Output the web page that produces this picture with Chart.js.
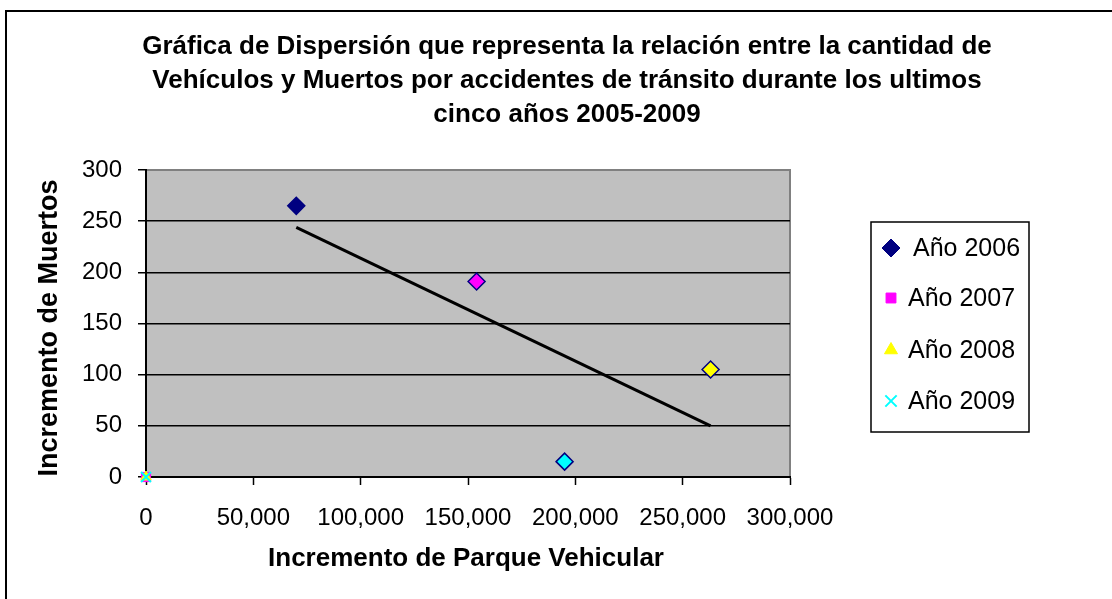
<!DOCTYPE html>
<html>
<head>
<meta charset="utf-8">
<script src="https://cdn.jsdelivr.net/npm/chart.js"></script>
<style>
  body { margin: 0; background: #fff; }
  canvas { display: block; }
</style>
</head>
<body>
<canvas id="scatterChart" width="1112" height="599"></canvas>
<script>
  // data
  const seriesNames = ["Año 2006", "Año 2007", "Año 2008", "Año 2009"];
  const vehicles2006 = [70000, 154000, 263000, 195000];
  const deaths2006 = [265, 191, 105, 15];
  const vehiclesOther = [0];
  const deathsOther = [0];
  const trendX = [70000, 263000];
  const trendY = [244, 50];
  const xTickValues = [0, 50000, 100000, 150000, 200000, 250000, 300000];
  const yTickValues = [0, 50, 100, 150, 200, 250, 300];

  const titleLines = [
    "Gráfica de Dispersión que representa la relación entre la cantidad de",
    "Vehículos y Muertos por accidentes de tránsito durante los ultimos",
    "cinco años 2005-2009",
  ];
  const xTitle = "Incremento de Parque Vehicular";
  const yTitle = "Incremento de Muertos";

  const FONT = '"Liberation Sans", Arial, sans-serif';
  const diamondColors = ["#000080", "#FF00FF", "#FFFF00", "#00FFFF"];

  const toPoints = (xs, ys) => xs.map((x, i) => ({ x: x, y: ys[i] }));

  const chartDecor = {
    id: "chartDecor",
    beforeDraw(chart) {
      const ctx = chart.ctx;
      const a = chart.chartArea;
      ctx.save();
      ctx.fillStyle = "#fff";
      ctx.fillRect(0, 0, chart.width, chart.height);
      // outer frame (runs off the right and bottom)
      ctx.strokeStyle = "#000";
      ctx.lineWidth = 2;
      ctx.strokeRect(6, 11, chart.width + 20, chart.height + 20);
      // plot area
      ctx.fillStyle = "#C0C0C0";
      ctx.fillRect(a.left, a.top, a.right - a.left, a.bottom - a.top);
      ctx.strokeStyle = "#808080";
      ctx.lineWidth = 2;
      ctx.beginPath();
      ctx.moveTo(a.left, a.top);
      ctx.lineTo(a.right, a.top);
      ctx.lineTo(a.right, a.bottom);
      ctx.stroke();
      ctx.restore();
    },
    afterDraw(chart) {
      const ctx = chart.ctx;
      ctx.save();
      ctx.fillStyle = "#000";
      ctx.textAlign = "center";
      ctx.textBaseline = "alphabetic";
      ctx.font = "bold 26px " + FONT;
      const baselines = [54, 88, 122];
      titleLines.forEach((t, i) => ctx.fillText(t, 567, baselines[i]));

      ctx.fillText(xTitle, 466, 566);

      ctx.save();
      ctx.font = "bold 27px " + FONT;
      ctx.translate(57, 328);
      ctx.rotate(-Math.PI / 2);
      ctx.fillText(yTitle, 0, 0);
      ctx.restore();

      // legend
      ctx.strokeStyle = "#000";
      ctx.lineWidth = 1.5;
      ctx.strokeRect(871, 222, 158, 210);
      const rowY = [248, 298, 350, 401];
      const legendMarks = [
        { pointStyle: "rectRot", radius: 9, borderWidth: 1, fill: "#000080", stroke: "#000080" },
        { pointStyle: "rect", radius: 7, borderWidth: 1, fill: "#FF00FF", stroke: "#FF00FF" },
        { pointStyle: "triangle", radius: 7.5, borderWidth: 1, fill: "#FFFF00", stroke: "#FFFF00" },
        { pointStyle: "crossRot", radius: 8, borderWidth: 2, fill: "#00FFFF", stroke: "#00FFFF" },
      ];
      ctx.font = "25px " + FONT;
      ctx.textAlign = "left";
      ctx.textBaseline = "middle";
      seriesNames.forEach((name, i) => {
        const m = legendMarks[i];
        ctx.fillStyle = m.fill;
        ctx.strokeStyle = m.stroke;
        ctx.lineWidth = m.borderWidth;
        Chart.helpers.drawPoint(ctx, m, 891, rowY[i]);
        ctx.fillStyle = "#000";
        ctx.fillText(name, i === 0 ? 913 : 908, rowY[i] + 1);
      });
      ctx.restore();
    },
  };

  new Chart(document.getElementById("scatterChart"), {
    type: "scatter",
    data: {
      datasets: [
        {
          label: "Tendencia",
          type: "line",
          data: toPoints(trendX, trendY),
          borderColor: "#000",
          borderWidth: 3,
          pointRadius: 0,
          fill: false,
          order: 5,
        },
        {
          label: seriesNames[0],
          data: toPoints(vehicles2006, deaths2006),
          pointStyle: "rectRot",
          pointRadius: 8.5,
          pointBorderWidth: 1.5,
          pointBackgroundColor: diamondColors,
          pointBorderColor: "#000080",
          clip: false,
          order: 1,
        },
        {
          label: seriesNames[1],
          data: toPoints(vehiclesOther, deathsOther),
          pointStyle: "rect",
          pointRadius: 6.5,
          pointBackgroundColor: "#FF00FF",
          pointBorderColor: "#FF00FF",
          clip: false,
          order: 4,
        },
        {
          label: seriesNames[2],
          data: toPoints(vehiclesOther, deathsOther),
          pointStyle: "triangle",
          pointRadius: 6,
          pointBackgroundColor: "#FFFF00",
          pointBorderColor: "#FFFF00",
          clip: false,
          order: 3,
        },
        {
          label: seriesNames[3],
          data: toPoints(vehiclesOther, deathsOther),
          pointStyle: "crossRot",
          pointRadius: 7,
          pointBorderWidth: 2,
          pointBorderColor: "#00FFFF",
          clip: false,
          order: 2,
        },
      ],
    },
    options: {
      responsive: false,
      animation: false,
      layout: { padding: { left: 0, top: 170, right: 322, bottom: 0 } },
      plugins: {
        legend: { display: false },
        title: { display: false },
        tooltip: { enabled: false },
      },
      scales: {
        x: {
          type: "linear",
          min: 0,
          max: 300000,
          afterBuildTicks: (s) => { s.ticks = xTickValues.map((v) => ({ value: v })); },
          afterFit: (s) => { s.height = 122; },
          grid: { drawOnChartArea: false, tickLength: 8, tickColor: "#000", tickWidth: 1.5 },
          border: { color: "#000", width: 2 },
          ticks: {
            padding: 19,
            color: "#000",
            maxRotation: 0,
            autoSkip: false,
            font: { family: FONT, size: 24 },
            callback: (v) => Number(v).toLocaleString("en-US"),
          },
        },
        y: {
          type: "linear",
          min: 0,
          max: 300,
          afterBuildTicks: (s) => { s.ticks = yTickValues.map((v) => ({ value: v })); },
          afterFit: (s) => { s.width = 146; },
          grid: {
            color: (c) => (c.tick && c.tick.value === 300 ? "rgba(0,0,0,0)" : "#000"),
            lineWidth: 1.5,
            tickLength: 8,
            tickColor: "#000",
            tickWidth: 1.5,
          },
          border: { color: "#000", width: 2 },
          ticks: {
            padding: 16,
            color: "#000",
            autoSkip: false,
            font: { family: FONT, size: 24 },
          },
        },
      },
    },
    plugins: [chartDecor],
  });
</script>
</body>
</html>
